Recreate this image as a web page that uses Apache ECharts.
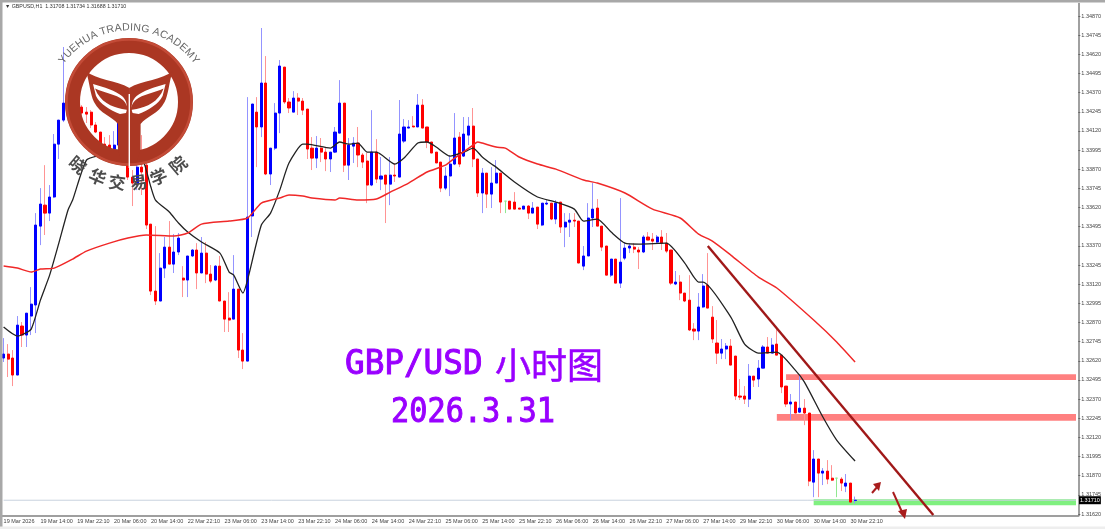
<!DOCTYPE html>
<html>
<head>
<meta charset="utf-8">
<title>GBP/USD H1</title>
<style>
  html, body { margin: 0; padding: 0; background: #fff; }
  #chart { width: 1105px; height: 529px; }
</style>
<script src="https://cdn.jsdelivr.net/npm/echarts@6/dist/echarts.min.js"></script>
</head>
<body>
<div id="chart"></div>
<script>
// prices are kept in points (1/100000), ten bars per line
var opens = [
  132638,132664,132638,132527,132847,132788,132912,132984,133499,133636,
  133584,133689,134034,134191,134302,134348,134400,134276,134243,134243,
  134159,134113,134034,134028,134002,134028,134243,134172,133819,133780,
  133884,133897,133512,133075,133010,133225,133362,133251,133330,133160,
  133147,133304,133343,133193,133323,133186,133147,133238,133010,132899,
  132892,133088,132690,132618,133565,134243,134146,134433,133839,134008,
  134237,134537,134309,134243,134335,134315,134263,134008,133943,134008,
  133982,133937,133982,134106,134302,133897,134021,134041,133963,133924,
  133767,133982,133806,133832,133773,133832,133819,134054,134139,134152,
  134146,134289,134146,134048,133982,133917,133747,133826,133904,134080,
  133956,134093,134152,133937,133715,133845,133708,133780,133845,133662,
  133662,133656,133617,133610,133630,133584,133623,133506,133643,133649,
  133545,133656,133493,133525,133538,133532,133238,133304,133552,133617,
  133499,133369,133179,133284,133127,133290,133356,133362,133343,133330,
  133428,133414,133395,133428,133388,133343,133121,133134,133062,133016,
  132827,132814,132971,133114,132905,132736,132670,132697,132716,132651,
  132390,132390,132370,132520,132501,132572,132710,132670,132729,132657,
  132455,132338,132351,132285,132311,132279,131828,131979,131887,131900,
  131854,131854,131848,131802,131822,131708
];
var closes = [
  132664,132631,132527,132853,132788,132931,132990,133506,133643,133584,
  133689,134034,134191,134302,134354,134400,134270,134237,134230,134159,
  134113,134041,134021,133995,134028,134243,134172,133819,133780,133884,
  133852,133506,133075,133010,133225,133362,133251,133330,133421,133147,
  133304,133343,133193,133323,133186,133140,133238,133010,132892,132886,
  133088,132690,132618,133558,134296,134146,134433,133839,134008,134237,
  134544,134309,134270,134335,134315,134256,134002,133943,134008,133982,
  133937,133982,134113,134302,133897,134028,134041,133963,133917,133767,
  133982,133806,133826,133773,133832,133826,134100,134146,134146,134146,
  134289,134139,134048,133976,133911,133747,133826,133904,134074,133904,
  134100,134152,133937,133715,133845,133708,133780,133845,133656,133662,
  133610,133610,133610,133630,133584,133617,133512,133649,133649,133545,
  133649,133493,133525,133538,133532,133258,133304,133552,133610,133499,
  133362,133179,133284,133127,133264,133356,133369,133349,133330,133428,
  133408,133401,133428,133388,133336,133127,133134,133062,133010,132821,
  132814,132971,133108,132964,132762,132670,132697,132716,132592,132390,
  132383,132370,132520,132494,132572,132710,132670,132723,132657,132449,
  132338,132351,132279,132311,132279,131835,131979,131887,131900,131848,
  131841,131854,131822,131822,131698,131710
];
var lows = [
  132612,132514,132455,132527,132710,132710,132788,132801,133375,133441,
  133532,133682,133937,134178,134256,134322,134256,134191,134172,134139,
  134106,134028,134015,133989,133995,134021,134159,133800,133630,133734,
  133702,133480,133049,132984,133010,133160,133251,133193,133310,133036,
  133036,133297,133088,133193,133127,133127,133140,133010,132808,132808,
  132892,132638,132566,132618,133428,133884,134080,133832,133767,133995,
  134106,134296,134237,134243,134224,134224,133937,133865,133878,133917,
  133858,133852,133976,134106,133852,133800,133911,133884,133878,133649,
  133760,133780,133734,133519,133636,133787,133819,134041,134139,134146,
  134146,134139,134008,133976,133911,133721,133734,133695,133897,133884,
  133950,134028,133884,133689,133584,133617,133617,133780,133584,133584,
  133610,133610,133610,133610,133545,133584,133480,133499,133636,133538,
  133512,133454,133362,133428,133493,133258,133212,133304,133493,133499,
  133336,133179,133166,133127,133095,133277,133323,133323,133219,133323,
  133408,133343,133388,133343,133323,133114,133114,133016,133003,132814,
  132755,132755,132964,132964,132736,132599,132631,132631,132592,132364,
  132364,132338,132318,132449,132449,132572,132670,132670,132657,132409,
  132318,132233,132279,132279,132200,131802,131730,131730,131809,131815,
  131835,131730,131770,131763,131691,131688
];
var highs = [
  132768,132729,132690,132912,132873,132931,133101,133584,133747,133897,
  133767,134100,134191,134668,134387,134452,134420,134289,134276,134256,
  134178,134113,134080,134093,134119,134243,134367,134224,133865,133930,
  134093,133917,133512,133499,133323,133428,133532,133447,133454,133238,
  133304,133349,133388,133428,133395,133245,133245,133304,133010,133068,
  133310,133088,132801,134341,134296,134341,134792,134609,134008,134302,
  134583,134537,134335,134380,134367,134335,134263,134080,134087,134074,
  134008,133982,134146,134452,134302,134074,134080,134146,133976,133976,
  134256,134067,133950,133832,133950,133911,134322,134198,134191,134217,
  134361,134328,134146,134048,133982,133917,133884,133963,134237,134113,
  134211,134211,134270,133937,133878,133845,133884,133930,133845,133662,
  133662,133721,133617,133630,133636,133656,133623,133649,133669,133649,
  133669,133656,133584,133584,133584,133532,133369,133649,133780,133676,
  133499,133369,133284,133284,133682,133395,133388,133388,133362,133441,
  133460,133454,133441,133473,133454,133343,133206,133179,133062,133179,
  132866,133062,133186,133323,132977,132886,132762,132736,132762,132651,
  132501,132455,132599,132520,132625,132723,132775,132768,132827,132657,
  132455,132403,132351,132527,132370,132279,132037,131979,131920,131972,
  131939,131854,131861,131881,131822,131734
];

// moving averages, read at the bar numbers listed next to them
var blackBars = [0,3,4,6,8,10,12,14,15,18,21,24,27,30,32,33,36,38,40,43,47,49,50,52,53,56,58,60,62,65,66,71,73,75,77,79,81,85,87,90,92,94,97,100,102,104,106,107,111,116,120,124,126,129,132,135,138,144,148,151,152,158,161,164,168,172,174,178,181,185];
var blackMa = [132840,132781,132790,132827,133016,133179,133388,133604,133669,133930,133963,133995,133995,133950,133754,133669,133591,133519,133460,133395,133323,133199,133179,133062,133147,133506,133584,133734,133911,134034,134034,134008,134048,134034,134041,133982,133982,133904,133943,134041,134048,134015,133956,133982,134008,133950,133904,133884,133787,133689,133656,133610,133532,133545,133460,133388,133382,133388,133258,133134,133134,132905,132729,132670,132677,132559,132481,132253,132103,131966];
var redBars = [0,3,6,8,11,15,18,23,27,31,37,40,43,49,53,56,60,62,65,67,72,73,77,81,84,88,92,96,98,102,103,104,107,109,112,116,120,126,129,135,141,147,151,154,158,164,168,176,181,185];
var redMa = [133238,133225,133199,133219,133225,133284,133336,133388,133421,133441,133434,133454,133512,133532,133552,133649,133682,133702,133695,133682,133669,133682,133669,133676,133721,133780,133852,133897,133943,134028,134048,134041,134015,134008,133950,133904,133871,133800,133780,133715,133610,133552,133447,133401,133310,133166,133095,132886,132743,132612];

// drawn objects: trend line and the three level bands
var trendBars = [153, 202];
var trendPrices = [133369, 131613];
var zoneStarts = [170, 168, 176];
var zoneTops = [132533, 132272, 131716];
var zoneBottoms = [132494, 132228, 131678];
var zoneColors = ['#ff8080', '#ff8080', '#80f080'];
var lastPrice = 1.31710;

var timeLabels = ['19 Mar 2026','19 Mar 14:00','19 Mar 22:10','20 Mar 06:00','20 Mar 14:00','22 Mar 22:10','23 Mar 06:00','23 Mar 14:00','23 Mar 22:10','24 Mar 06:00','24 Mar 14:00','24 Mar 22:10','25 Mar 06:00','25 Mar 14:00','25 Mar 22:10','26 Mar 06:00','26 Mar 14:00','26 Mar 22:10','27 Mar 06:00','27 Mar 14:00','29 Mar 22:10','30 Mar 06:00','30 Mar 14:00','30 Mar 22:10'];
var priceTicks = [1.31620,1.31745,1.31870,1.31995,1.32120,1.32245,1.32370,1.32495,1.32620,1.32745,1.32870,1.32995,1.33120,1.33245,1.33370,1.33495,1.33620,1.33745,1.33870,1.33995,1.34120,1.34245,1.34370,1.34495,1.34620,1.34745,1.34870];

var TOTAL_SLOTS = 234;
var LABEL_STEP = 8;
var labelFont = '"Liberation Sans", sans-serif';

var categories = [];
for (var i = 0; i < TOTAL_SLOTS; i++) {
  categories.push(i % LABEL_STEP === 0 && timeLabels[i / LABEL_STEP] ? timeLabels[i / LABEL_STEP] : '');
}
function showTick(index) {
  return index % LABEL_STEP === 0 && index / LABEL_STEP < timeLabels.length;
}
function price(points) {
  return points / 100000;
}

// wick series keeps the highs and lows, body series only open and close,
// so that the thin wick can be paler than the body like on the terminal
var wickData = opens.map(function (o, n) {
  return [price(o), price(closes[n]), price(lows[n]), price(highs[n])];
});
var bodyData = opens.map(function (o, n) {
  var c = closes[n];
  return [price(o), price(c), price(Math.min(o, c)), price(Math.max(o, c))];
});
function pairs(bars, values) {
  return bars.map(function (b, n) { return [b, price(values[n])]; });
}

var zoneAreas = zoneStarts.map(function (start, n) {
  return [
    { coord: [start, price(zoneTops[n])], itemStyle: { color: zoneColors[n] } },
    { coord: [TOTAL_SLOTS - 1, price(zoneBottoms[n])] }
  ];
});

// --- logo and page decoration ---
var measure = document.createElement('canvas').getContext('2d');

function arcLetters(text, cx, cy, r, font) {
  measure.font = font;
  var total = measure.measureText(text).width;
  var pos = -total / 2;
  return text.split('').map(function (ch) {
    var w = measure.measureText(ch).width;
    var a = (pos + w / 2) / r;
    pos += w;
    return {
      type: 'text', z: 120,
      x: cx + r * Math.sin(a), y: cy - r * Math.cos(a), rotation: -a,
      style: { text: ch, font: font, fill: '#666', textAlign: 'center', textVerticalAlign: 'bottom' }
    };
  });
}
function bottomLetters(text, angles, cx, cy, r, font) {
  return text.split('').map(function (ch, n) {
    var a = angles[n] * Math.PI / 180;
    return {
      type: 'text', z: 120,
      x: cx + r * Math.sin(a), y: cy + r * Math.cos(a), rotation: a,
      style: { text: ch, font: font, fill: '#4c4c4c', textAlign: 'center', textVerticalAlign: 'middle' }
    };
  });
}
// graphic component has no plain path type, so free shapes get registered first
function svgShape(name, d, z, style) {
  echarts.graphic.registerShape(name, echarts.graphic.extendPath(d));
  return { type: name, z: z, shape: {}, style: style };
}

var logoRed = '#ab3723';
var logo = [
  { type: 'circle', z: 110, shape: { cx: 129, cy: 102, r: 56.5 }, style: { fill: 'none', stroke: logoRed, lineWidth: 15 } },
  { type: 'circle', z: 111, shape: { cx: 129, cy: 102, r: 62.5 }, style: { fill: 'none', stroke: '#c9503c', lineWidth: 2.5, opacity: 0.8 } },
  // tail with its stem, a white hole on each side and the small leaf inside the hole
  svgShape('tailLeft', 'M86,71 C96,80 116,80 129.5,88 L129.5,162 L122,162 L118,150 L118,124 C112,116 100,114 94,102 C90,94 90,84 86,71 Z', 112, { fill: logoRed }),
  svgShape('tailRight', 'M172.6,71 C162.6,80 142.6,80 129.1,88 L129.1,162 L136.6,162 L140.6,150 L140.6,124 C146.6,116 158.6,114 164.6,102 C168.6,94 168.6,84 172.6,71 Z', 112, { fill: logoRed }),
  svgShape('holeLeft', 'M93,84 C104,87 116,91 122,96 C127,100 128,108 126,113 L120,114 C110,110 100,104 96,96 C95,92 94,88 93,84 Z', 113, { fill: '#fff' }),
  svgShape('holeRight', 'M165.6,84 C154.6,87 142.6,91 136.6,96 C131.6,100 130.6,108 132.6,113 L138.6,114 C148.6,110 158.6,104 162.6,96 C163.6,92 164.6,88 165.6,84 Z', 113, { fill: '#fff' }),
  svgShape('leafLeft', 'M95,88.5 C104,93 116,94 123,100 C126,103 127.5,106 128,110 L122,109 C112,107 100,102 95,88.5 Z', 114, { fill: logoRed }),
  svgShape('leafRight', 'M163.6,88.5 C154.6,93 142.6,94 135.6,100 C132.6,103 131.1,106 130.6,110 L136.6,109 C146.6,107 158.6,102 163.6,88.5 Z', 114, { fill: logoRed }),
  { type: 'rect', z: 115, shape: { x: 128.6, y: 94, width: 1.4, height: 74 }, style: { fill: '#fff' } }
];

var arrows = [
  { type: 'line', z: 120, shape: { x1: 872, y1: 493, x2: 878, y2: 486 }, style: { stroke: '#a81c1c', lineWidth: 2 } },
  { type: 'polygon', z: 120, shape: { points: [[881,482],[873,484],[879,491]] }, style: { fill: '#a81c1c' } },
  { type: 'line', z: 120, shape: { x1: 893, y1: 492, x2: 902, y2: 512 }, style: { stroke: '#a81c1c', lineWidth: 2 } },
  { type: 'polygon', z: 120, shape: { points: [[905,519],[898,511],[907,509]] }, style: { fill: '#a81c1c' } }
];

var purple = '#9900ff';
var monoFont = '34px "DejaVu Sans Mono", monospace';
var headings = [
  { type: 'text', z: 130, x: 345, y: 365, scaleX: 0.96, style: { text: 'GBP/USD', font: monoFont, fill: purple, stroke: purple, lineWidth: 1, textVerticalAlign: 'middle' } },
  { type: 'text', z: 130, x: 495, y: 365, style: { text: '小时图', font: '36px "Noto Sans CJK SC", sans-serif', fill: purple, stroke: purple, lineWidth: 0.5, textVerticalAlign: 'middle' } },
  { type: 'text', z: 130, x: 391, y: 413, scaleX: 0.89, style: { text: '2026.3.31', font: monoFont, fill: purple, stroke: purple, lineWidth: 1, textVerticalAlign: 'middle' } }
];

var frame = [
  { type: 'rect', z: 100, shape: { x: 0, y: 0, width: 1105, height: 2.5 }, style: { fill: '#a8a8a8' } },
  { type: 'rect', z: 100, shape: { x: 0, y: 0, width: 2.5, height: 529 }, style: { fill: '#a8a8a8' } },
  { type: 'rect', z: 100, shape: { x: 0, y: 526.5, width: 1105, height: 2.5 }, style: { fill: '#eeeeee' } }
];

var option = {
  backgroundColor: '#fff',
  animation: false,
  title: {
    text: '▼ GBPUSD,H1  1.31708 1.31734 1.31688 1.31710',
    left: 5, top: 4.5, padding: 0,
    textStyle: { fontFamily: labelFont, fontSize: 5.3, fontWeight: 'normal', color: '#333' }
  },
  grid: { left: 1.3, width: 1077, top: 3.5, height: 512.2, containLabel: false },
  xAxis: {
    type: 'category',
    data: categories,
    boundaryGap: true,
    axisLine: { lineStyle: { color: '#808080', width: 1.5 } },
    axisTick: { length: 2, alignWithLabel: true, interval: showTick, lineStyle: { color: '#666' } },
    axisLabel: {
      interval: showTick, align: 'left', margin: 3, hideOverlap: false,
      fontFamily: labelFont, fontSize: 5.5, color: '#444'
    },
    splitLine: { show: false }
  },
  yAxis: {
    type: 'value',
    position: 'right',
    min: 1.31609,
    max: 1.34952,
    axisLine: { show: true, lineStyle: { color: '#808080', width: 1.5 } },
    axisTick: { show: true, length: 2, customValues: priceTicks, lineStyle: { color: '#666' } },
    axisLabel: {
      customValues: priceTicks, margin: 3, fontFamily: labelFont, fontSize: 5.5, color: '#444',
      formatter: function (v) { return v.toFixed(5); }
    },
    splitLine: { show: false }
  },
  series: [
    {
      name: 'last price', type: 'line', z: 1, silent: true, symbol: 'none',
      data: [[0, lastPrice], [TOTAL_SLOTS - 1, lastPrice]],
      lineStyle: { color: '#c8d2de', width: 1 },
      endLabel: {
        show: true, distance: 3, formatter: lastPrice.toFixed(5),
        backgroundColor: '#000', color: '#fff', padding: [1, 1],
        fontFamily: labelFont, fontSize: 5.5
      }
    },
    {
      name: 'zones', type: 'line', data: [], z: 1, silent: true,
      markArea: { silent: true, data: zoneAreas }
    },
    {
      name: 'wick', type: 'candlestick', data: wickData, barWidth: 1, z: 2, silent: true,
      itemStyle: { color: '#ff9494', color0: '#ff9494', borderColor: '#9494ff', borderColor0: '#ff9494', borderColorDoji: '#90e890', borderWidth: 1 }
    },
    {
      name: 'body', type: 'candlestick', data: bodyData, barWidth: 2.6, z: 3, silent: true,
      itemStyle: { color: '#0000ff', color0: '#ff0000', borderColor: '#0000ff', borderColor0: '#ff0000', borderColorDoji: '#90e890', borderWidth: 1 }
    },
    {
      name: 'ma black', type: 'line', data: pairs(blackBars, blackMa), z: 4, silent: true,
      symbol: 'none', smooth: 0.2, lineStyle: { color: '#222', width: 1.3 }
    },
    {
      name: 'ma red', type: 'line', data: pairs(redBars, redMa), z: 4, silent: true,
      symbol: 'none', smooth: 0.2, lineStyle: { color: '#f02828', width: 1.5 }
    },
    {
      name: 'trend', type: 'line', data: pairs(trendBars, trendPrices), z: 5, silent: true,
      symbol: 'none', lineStyle: { color: '#a01818', width: 2.4 }
    }
  ],
  graphic: {
    elements: frame.concat(
      logo,
      arcLetters('YUEHUA TRADING ACADEMY', 129, 111, 78, '10.5px "Liberation Sans", sans-serif'),
      bottomLetters('晓华交易学院', [-40, -23, -8, 8, 23, 40], 128, 105, 78, 'bold 17px "Noto Sans CJK SC", sans-serif'),
      arrows,
      headings
    )
  }
};

var chart = echarts.init(document.getElementById('chart'), null, { renderer: 'canvas' });
chart.setOption(option);
</script>
</body>
</html>
